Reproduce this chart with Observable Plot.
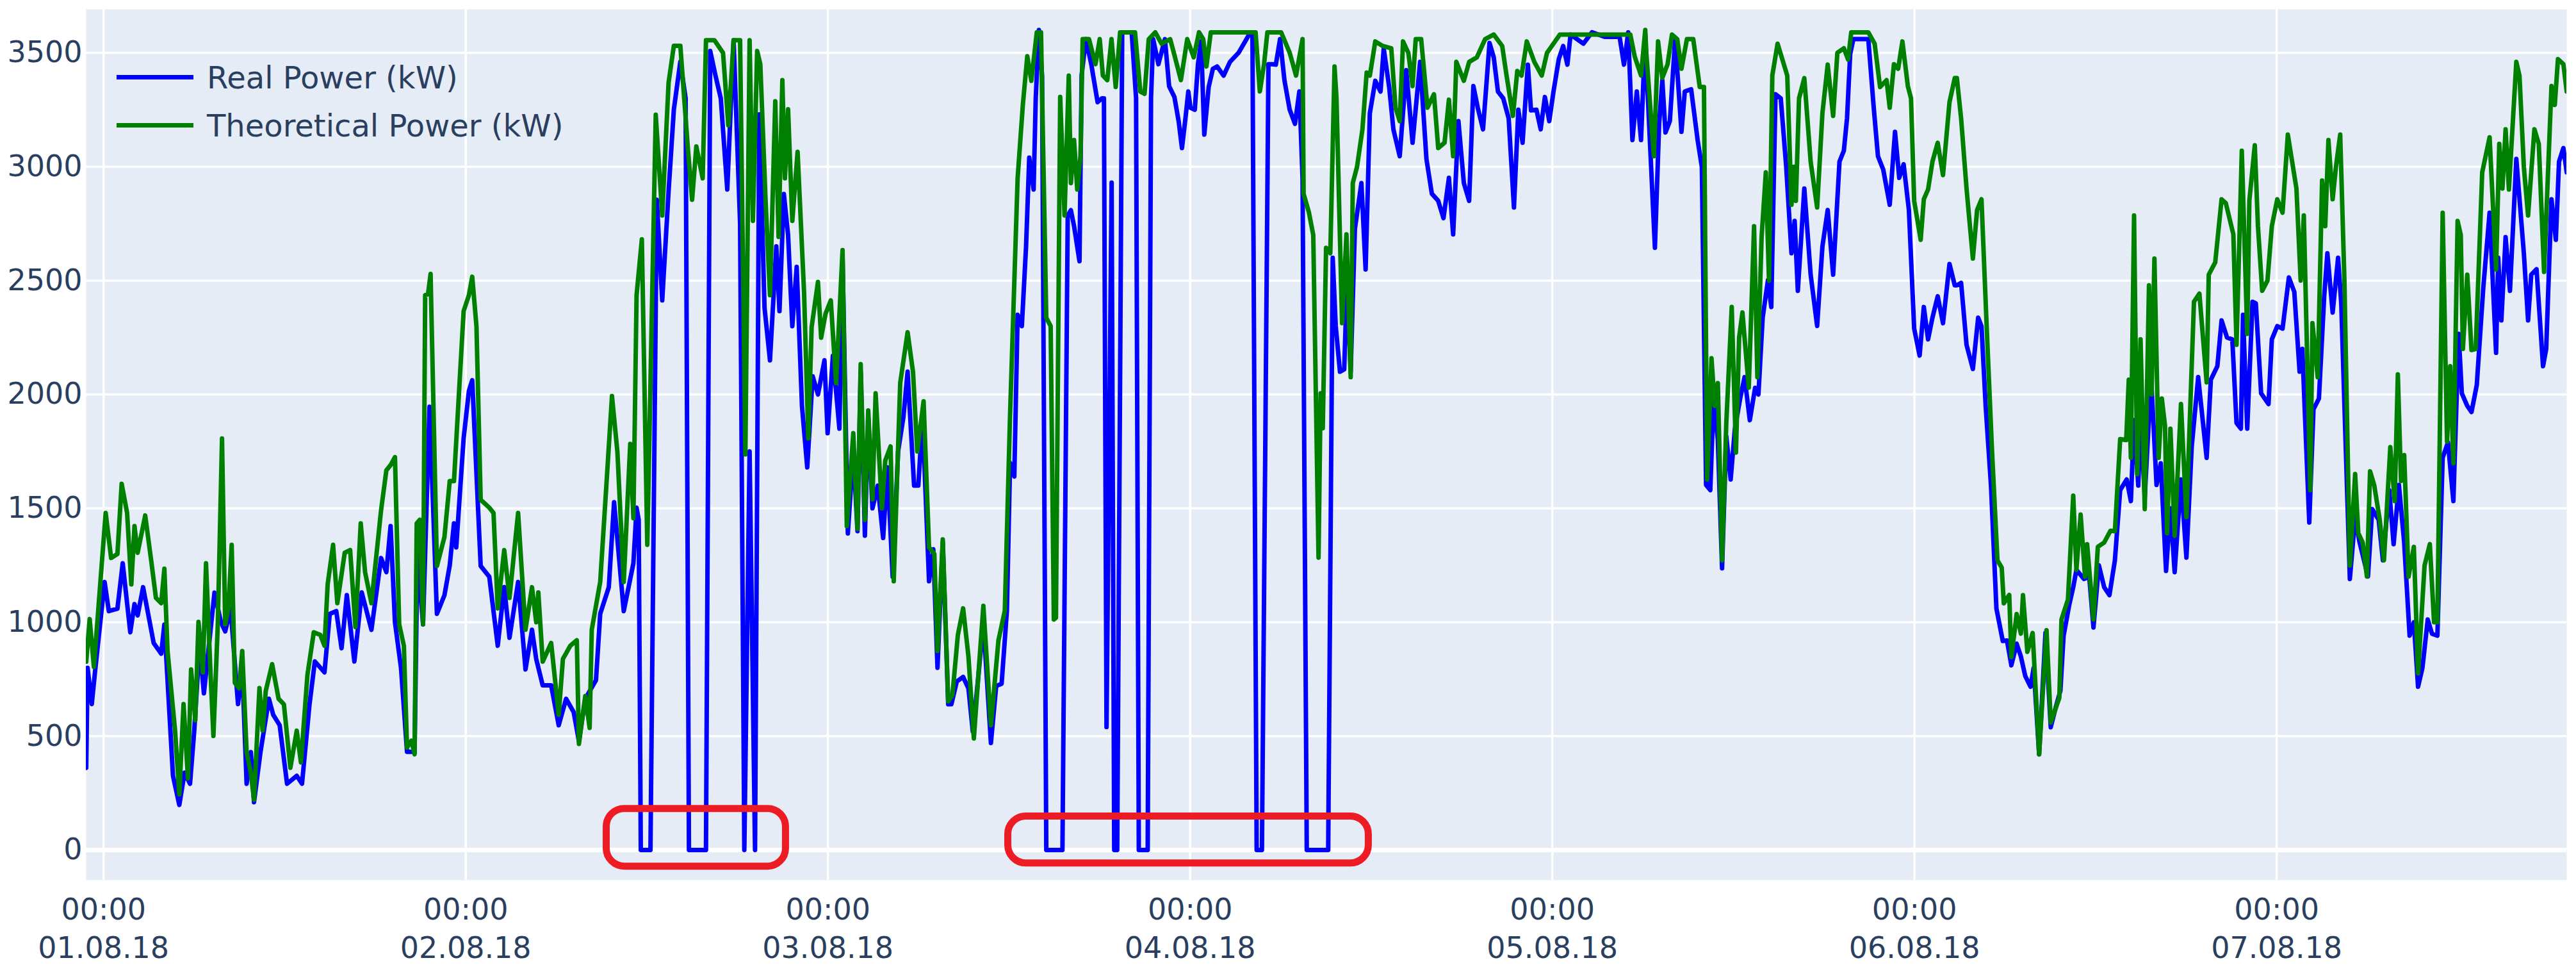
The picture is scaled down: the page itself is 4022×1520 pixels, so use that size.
<!DOCTYPE html>
<html>
<head>
<meta charset="utf-8">
<script src="https://cdn.jsdelivr.net/npm/d3@7"></script>
<script src="https://cdn.jsdelivr.net/npm/@observablehq/plot@0.6"></script>
<style>
  html, body { margin: 0; padding: 0; background: #ffffff; }
  #wrap { position: relative; width: 4022px; height: 1520px; font-family: "DejaVu Sans", Verdana, sans-serif; }
  #legend { position: absolute; left: 182px; top: 83px; color: #2a3f5f; font-size: 48px; }
  .item { display: flex; align-items: center; height: 75px; white-space: nowrap; }
  .swatch { width: 120px; height: 7px; margin-right: 21px; }
</style>
</head>
<body>
<div id="wrap"><div id="legend"></div></div>
<script>
// ---- data: [hours since 01.08.18 00:00, kW] ----
const seriesNames = ["Real Power (kW)", "Theoretical Power (kW)"];
const seriesColors = ["#0000ff", "#008000"];

const realPower = [[-1.15,361],[-1.06,800],[-0.78,641],[-0.57,780],[0.07,1177],[0.35,1049],[0.92,1060],[1.27,1259],[1.77,956],[2.05,1080],[2.26,1030],[2.62,1154],[3.32,909],[3.82,862],[4.03,990],[4.60,326],[5.02,198],[5.37,340],[5.73,291],[6.01,524],[6.36,900],[6.65,688],[7.35,1130],[7.78,1000],[8.06,960],[8.42,1060],[8.91,641],[9.19,800],[9.48,291],[9.76,430],[9.97,210],[10.40,431],[10.96,664],[11.24,594],[11.67,548],[12.16,291],[12.80,326],[13.15,291],[13.65,641],[14.00,828],[14.64,780],[14.99,1037],[15.42,1049],[15.77,886],[16.12,1119],[16.62,828],[17.11,1131],[17.75,967],[18.39,1282],[18.74,1220],[19.02,1422],[19.31,1000],[19.71,800],[20.11,431],[20.61,431],[20.80,1300],[21.17,991],[21.60,1946],[22.09,1037],[22.59,1119],[22.94,1250],[23.22,1434],[23.37,1329],[23.86,1807],[24.21,2016],[24.43,2063],[24.99,1247],[25.56,1200],[26.12,897],[26.55,1154],[26.90,932],[27.47,1177],[27.96,793],[28.39,967],[28.67,839],[29.10,723],[29.66,723],[30.16,548],[30.65,664],[31.15,606],[31.50,478],[31.92,664],[32.63,746],[32.91,1037],[33.48,1154],[33.83,1527],[34.05,1364],[34.47,1049],[35.11,1259],[35.32,1503],[35.46,1450],[35.60,0],[36.24,0],[36.66,2855],[37.02,2413],[37.44,2891],[37.79,3251],[38.22,3461],[38.57,3300],[38.79,0],[39.92,0],[40.20,3508],[40.55,3400],[40.90,3300],[41.33,2900],[41.75,3555],[42.18,2750],[42.46,0],[42.81,1750],[43.17,0],[43.45,3230],[43.80,2380],[44.16,2150],[44.58,2650],[44.79,2366],[45.08,2880],[45.36,2700],[45.64,2300],[45.93,2560],[46.28,1950],[46.63,1680],[46.99,2080],[47.34,2000],[47.77,2150],[47.98,1830],[48.33,2170],[48.76,1850],[48.97,2600],[49.32,1390],[49.68,1750],[49.96,1400],[50.17,2100],[50.45,1380],[50.67,1900],[50.95,1500],[51.30,1600],[51.66,1370],[51.94,1680],[52.29,1200],[52.65,1750],[53.00,1900],[53.28,2100],[53.71,1600],[53.99,1600],[54.27,1900],[54.70,1180],[54.98,1320],[55.26,800],[55.61,1350],[55.97,640],[56.18,640],[56.54,740],[56.96,760],[57.31,710],[57.60,520],[57.95,750],[58.30,1000],[58.80,470],[59.15,720],[59.51,730],[59.86,1050],[60.07,1700],[60.35,1640],[60.57,2350],[60.85,2300],[61.13,2650],[61.34,3040],[61.63,2900],[61.77,3300],[61.98,3600],[62.19,3400],[62.47,0],[63.54,0],[63.89,2786],[64.10,2809],[64.31,2739],[64.67,2585],[64.81,3400],[65.09,3560],[65.45,3450],[65.87,3283],[66.15,3300],[66.29,3300],[66.46,540],[66.80,2930],[66.97,0],[67.17,0],[67.50,3590],[68.13,3590],[68.42,3300],[68.60,0],[69.19,0],[69.41,3300],[69.55,3560],[69.90,3450],[70.33,3560],[70.61,3353],[70.96,3306],[71.24,3200],[71.46,3082],[71.67,3200],[71.88,3330],[72.02,3259],[72.31,3250],[72.52,3450],[72.73,3550],[72.94,3141],[73.23,3350],[73.51,3430],[73.79,3440],[74.22,3400],[74.64,3460],[75.21,3500],[75.91,3580],[76.13,3580],[76.41,0],[76.76,0],[77.19,3450],[77.47,3450],[77.68,3448],[77.96,3560],[78.25,3380],[78.60,3250],[78.95,3188],[79.24,3330],[79.45,2950],[79.73,0],[81.15,0],[81.45,2600],[81.65,2300],[81.93,2100],[82.21,2110],[82.40,2500],[82.64,2100],[82.92,2727],[83.35,2928],[83.63,2549],[83.91,3235],[84.27,3377],[84.62,3330],[84.83,3519],[85.19,3350],[85.47,3164],[85.89,3046],[86.32,3424],[86.74,3105],[87.24,3460],[87.66,3034],[88.02,2881],[88.44,2850],[88.79,2774],[89.15,2951],[89.43,2703],[89.78,3200],[90.14,2928],[90.49,2850],[90.77,3354],[91.06,3259],[91.41,3164],[91.84,3543],[92.12,3480],[92.40,3330],[92.75,3300],[93.11,3212],[93.46,2821],[93.75,3250],[94.03,3105],[94.38,3448],[94.59,3247],[94.95,3250],[95.23,3164],[95.51,3306],[95.80,3200],[96.08,3330],[96.43,3472],[96.72,3530],[97.00,3448],[97.21,3580],[98.06,3540],[98.63,3590],[99.47,3570],[100.46,3570],[100.75,3448],[101.03,3590],[101.31,3117],[101.60,3330],[101.88,3117],[102.16,3580],[102.30,3350],[102.80,2644],[103.08,3188],[103.29,3380],[103.50,3150],[103.79,3200],[104.14,3560],[104.56,3153],[104.78,3330],[105.20,3340],[105.63,3117],[105.91,2999],[106.19,1603],[106.47,1580],[106.69,1982],[106.97,1800],[107.25,1237],[107.53,1816],[107.82,1627],[108.10,1850],[108.45,1982],[108.74,2076],[109.09,1887],[109.44,2029],[109.66,2000],[109.94,2337],[110.29,2502],[110.51,2384],[110.79,3318],[111.14,3300],[111.50,3000],[111.85,2620],[112.06,2762],[112.27,2455],[112.70,2904],[113.12,2526],[113.55,2301],[113.90,2650],[114.25,2810],[114.61,2526],[115.03,3022],[115.32,3070],[115.53,3212],[115.74,3495],[115.95,3560],[116.94,3560],[117.30,3259],[117.58,3046],[117.93,2987],[118.36,2833],[118.71,3153],[118.99,2951],[119.28,3011],[119.63,2810],[119.98,2289],[120.34,2171],[120.62,2384],[120.90,2242],[121.19,2337],[121.54,2431],[121.89,2313],[122.32,2573],[122.67,2479],[122.81,2479],[123.09,2490],[123.45,2218],[123.87,2112],[124.22,2337],[124.44,2300],[124.72,1946],[125.07,1600],[125.43,1060],[125.85,918],[126.13,920],[126.42,811],[126.77,906],[127.05,850],[127.34,764],[127.69,717],[127.90,800],[128.26,421],[128.68,953],[129.03,539],[129.39,634],[129.67,700],[129.88,940],[130.24,1071],[130.52,1154],[130.73,1230],[131.23,1190],[131.58,1200],[131.86,977],[132.22,1250],[132.57,1154],[132.92,1119],[133.28,1272],[133.63,1580],[134.06,1627],[134.34,1532],[134.55,1887],[134.83,1600],[134.98,1900],[135.26,1550],[135.68,2076],[136.04,1603],[136.32,1698],[136.67,1225],[136.96,1500],[137.24,1220],[137.66,1627],[138.02,1284],[138.37,1769],[138.80,2076],[139.36,1722],[139.64,2065],[140.07,2124],[140.35,2325],[140.71,2250],[141.06,2242],[141.34,1875],[141.63,1850],[141.77,2350],[142.05,1850],[142.40,2407],[142.62,2400],[142.97,2005],[143.46,1958],[143.68,2242],[144.04,2300],[144.39,2289],[144.81,2514],[145.17,2450],[145.52,2100],[145.70,2200],[146.16,1438],[146.44,1935],[146.80,1982],[147.15,2431],[147.36,2620],[147.71,2360],[148.07,2600],[148.28,2400],[148.85,1190],[149.20,1462],[149.48,1355],[150.05,1201],[150.33,1497],[150.76,1450],[151.04,1272],[151.46,1580],[151.75,1343],[152.10,1603],[152.45,1350],[152.81,941],[153.09,1000],[153.37,717],[153.66,800],[154.01,1012],[154.29,950],[154.65,941],[155.00,1722],[155.35,1790],[155.71,1532],[156.06,2266],[156.27,2005],[156.63,1950],[156.91,1923],[157.26,2041],[157.69,2467],[158.11,2798],[158.54,2183],[158.68,2600],[158.89,2325],[159.17,2691],[159.46,2455],[159.88,3034],[160.38,2620],[160.66,2325],[160.87,2526],[161.22,2550],[161.65,2124],[161.86,2200],[162.21,2857],[162.50,2679],[162.71,3022],[163.00,3082],[163.22,2975]];

const theoreticalPower = [[-1.15,827],[-0.92,1014],[-0.64,804],[0.14,1480],[0.50,1282],[0.92,1300],[1.20,1608],[1.56,1480],[1.84,1166],[2.05,1422],[2.26,1305],[2.76,1469],[3.18,1259],[3.47,1107],[3.82,1084],[4.03,1235],[4.24,874],[4.74,524],[5.02,245],[5.30,641],[5.59,315],[5.80,793],[6.08,570],[6.29,1002],[6.58,780],[6.79,1259],[7.07,804],[7.28,501],[7.57,991],[7.85,1807],[8.06,991],[8.27,1060],[8.49,1340],[8.70,734],[8.98,710],[9.19,874],[9.48,431],[9.76,338],[9.97,221],[10.33,711],[10.54,525],[10.75,699],[11.17,816],[11.60,664],[11.95,640],[12.38,361],[12.80,524],[13.08,385],[13.51,769],[13.93,956],[14.36,945],[14.64,897],[14.85,1166],[15.21,1340],[15.49,1084],[15.98,1305],[16.34,1317],[16.69,979],[17.04,1434],[17.33,1220],[17.75,1084],[18.39,1492],[18.74,1667],[19.02,1690],[19.31,1725],[19.59,991],[19.90,897],[20.11,450],[20.40,480],[20.61,420],[20.75,1434],[20.96,1450],[21.17,991],[21.31,2436],[21.50,2440],[21.67,2529],[22.09,1247],[22.59,1375],[22.94,1620],[23.22,1620],[23.86,2366],[24.21,2436],[24.43,2517],[24.71,2300],[24.99,1538],[25.56,1503],[25.84,1480],[26.12,1061],[26.55,1317],[26.90,1107],[27.47,1480],[27.96,967],[28.39,1154],[28.67,1000],[28.81,1131],[29.10,827],[29.66,909],[30.16,594],[30.44,839],[30.93,897],[31.36,921],[31.50,466],[31.92,676],[32.21,536],[32.35,967],[32.91,1177],[33.27,1550],[33.69,1993],[34.05,1748],[34.47,1177],[34.90,1783],[35.11,1457],[35.32,2436],[35.67,2681],[36.03,1340],[36.59,3228],[37.02,2786],[37.44,3368],[37.79,3531],[38.22,3531],[38.71,3089],[39.00,2855],[39.28,3089],[39.70,2949],[39.92,3555],[40.48,3555],[41.05,3500],[41.40,3182],[41.75,3555],[42.18,3555],[42.53,1737],[42.81,3555],[43.03,2762],[43.31,3508],[43.52,3450],[43.87,2850],[44.16,2436],[44.51,3287],[44.73,2692],[44.98,3380],[45.15,2949],[45.36,3252],[45.64,2762],[45.99,3065],[46.42,2448],[46.70,1807],[46.92,2296],[47.34,2494],[47.55,2249],[47.84,2354],[48.19,2413],[48.54,2050],[48.97,2634],[49.25,1422],[49.68,1830],[49.96,1410],[50.17,2133],[50.45,1450],[50.67,1930],[50.95,1540],[51.16,2005],[51.58,1500],[51.80,1710],[52.15,1772],[52.36,1180],[52.79,2051],[53.28,2273],[53.64,2098],[53.92,1750],[54.34,1970],[54.70,1329],[55.05,1300],[55.26,874],[55.61,1364],[55.97,653],[56.25,680],[56.61,944],[56.96,1061],[57.31,851],[57.67,490],[58.30,1072],[58.80,548],[59.30,921],[59.72,1050],[60.07,1911],[60.57,2949],[60.92,3275],[61.21,3485],[61.48,3377],[61.84,3590],[62.12,3590],[62.47,2337],[62.76,2300],[62.97,1012],[63.11,1020],[63.39,3306],[63.68,2786],[63.96,3400],[64.10,2928],[64.31,3117],[64.52,2900],[64.74,3050],[64.88,3560],[65.30,3560],[65.73,3450],[66.01,3560],[66.22,3400],[66.51,3380],[66.79,3560],[67.07,3350],[67.36,3590],[68.35,3590],[68.70,3330],[68.98,3320],[69.26,3560],[69.69,3590],[70.11,3540],[70.68,3560],[70.96,3490],[71.39,3380],[71.81,3560],[72.24,3480],[72.59,3590],[72.87,3560],[73.08,3440],[73.37,3590],[76.34,3590],[76.62,3330],[76.90,3450],[77.12,3590],[78.03,3590],[78.60,3500],[79.02,3400],[79.45,3560],[79.52,2881],[79.87,2800],[80.16,2700],[80.51,1284],[80.65,2005],[80.79,1852],[81.01,2644],[81.29,2620],[81.57,3440],[81.70,3300],[82.07,2313],[82.36,2703],[82.64,2076],[82.78,2928],[83.06,2999],[83.42,3164],[83.70,3413],[83.91,3400],[84.27,3550],[84.76,3530],[85.33,3520],[85.61,3259],[85.89,3200],[86.11,3550],[86.46,3500],[86.74,3354],[86.95,3560],[87.31,3560],[87.73,3259],[88.16,3318],[88.44,3082],[88.86,3105],[89.15,3294],[89.43,3046],[89.64,3460],[90.14,3377],[90.49,3460],[91.00,3480],[91.55,3560],[92.12,3580],[92.68,3530],[92.97,3400],[93.39,3223],[93.68,3420],[93.96,3400],[94.31,3550],[94.81,3460],[95.30,3400],[95.65,3500],[96.50,3580],[101.17,3580],[101.46,3484],[101.88,3400],[102.16,3600],[102.23,3500],[102.73,3046],[103.01,3550],[103.29,3390],[103.64,3450],[103.93,3580],[104.28,3560],[104.56,3430],[104.92,3560],[105.34,3560],[105.77,3350],[106.05,3350],[106.26,1627],[106.55,2159],[106.76,1950],[106.97,2050],[107.25,1272],[107.53,1875],[107.89,2384],[108.17,1745],[108.38,2250],[108.60,2360],[109.02,2030],[109.37,2739],[109.59,2076],[109.87,2691],[110.15,2975],[110.36,2500],[110.58,3401],[110.93,3540],[111.57,3400],[111.85,2833],[112.00,3000],[112.14,2850],[112.35,3300],[112.70,3389],[113.12,3022],[113.55,2821],[113.90,3235],[114.25,3448],[114.61,3223],[114.89,3500],[115.32,3520],[115.60,3470],[115.81,3590],[116.94,3590],[117.36,3540],[117.72,3350],[118.15,3380],[118.36,3259],[118.64,3450],[118.92,3430],[119.20,3550],[119.56,3354],[119.77,3300],[119.98,2850],[120.41,2679],[120.62,2857],[120.90,2900],[121.19,3022],[121.54,3105],[121.89,2963],[122.32,3283],[122.67,3389],[122.81,3389],[123.09,3212],[123.45,2904],[123.87,2597],[124.15,2810],[124.44,2857],[124.79,2289],[125.14,1750],[125.50,1272],[125.78,1240],[125.92,1083],[126.28,1120],[126.42,847],[126.77,1036],[127.05,950],[127.19,1119],[127.48,870],[127.83,953],[128.26,420],[128.75,965],[129.03,560],[129.60,669],[129.74,1012],[130.17,1100],[130.52,1556],[130.73,1230],[131.01,1473],[131.30,1200],[131.44,1343],[131.86,1012],[132.15,1331],[132.57,1350],[132.99,1402],[133.28,1400],[133.63,1804],[134.03,1800],[134.20,2065],[134.34,1722],[134.55,2786],[134.76,1650],[134.98,2242],[135.26,1497],[135.54,2479],[135.71,2000],[135.90,2597],[136.18,1722],[136.39,1982],[136.60,1864],[136.74,1391],[136.96,1850],[137.24,1380],[137.66,1958],[138.02,1462],[138.52,2407],[138.88,2443],[139.36,2053],[139.50,2526],[139.93,2580],[140.35,2857],[140.63,2840],[141.13,2703],[141.34,2218],[141.69,3070],[142.05,2266],[142.19,2850],[142.55,3094],[142.76,2739],[143.04,2455],[143.39,2500],[143.68,2739],[144.04,2857],[144.39,2798],[144.74,3141],[145.31,2904],[145.59,2500],[145.80,2786],[146.23,1580],[146.37,2313],[146.72,2076],[147.01,2939],[147.22,2739],[147.43,3117],[147.71,2857],[147.93,3000],[148.21,3141],[148.49,2500],[148.85,1249],[149.20,1651],[149.41,1391],[149.70,1350],[149.98,1201],[150.19,1663],[150.47,1600],[150.83,1450],[151.11,1272],[151.53,1769],[151.82,1532],[152.03,2088],[152.24,1620],[152.45,1734],[152.74,1200],[153.09,1331],[153.37,776],[153.80,1249],[154.15,1343],[154.43,1000],[154.65,1000],[155.00,2798],[155.29,1793],[155.50,2124],[155.71,1698],[155.99,2762],[156.20,2700],[156.34,2200],[156.63,2526],[156.91,2195],[157.19,2200],[157.62,2975],[158.11,3129],[158.54,2549],[158.75,3100],[158.96,2904],[159.17,3164],[159.39,2900],[159.88,3460],[160.09,3400],[160.38,2999],[160.66,2786],[161.08,3164],[161.37,3100],[161.72,2538],[162.21,3354],[162.43,3271],[162.64,3472],[163.00,3450],[163.22,3330]];

// highlighted outage windows: [start hour, end hour, low kW, high kW]
const outageBoxes = [[33.33, 45.21, -72, 181], [59.94, 83.83, -58, 148]];

const yTicks = [0, 500, 1000, 1500, 2000, 2500, 3000, 3500];
const dayTicks = ["2018-08-01", "2018-08-02", "2018-08-03", "2018-08-04", "2018-08-05", "2018-08-06", "2018-08-07"];
const xRangeHours = [-1.154, 163.22];
const yRange = [-132, 3691];

// ---- build ----
const base = Date.UTC(2018, 7, 1);
const toDate = h => new Date(base + h * 3600e3);
const realData = realPower.map(([h, v]) => ({t: toDate(h), v}));
const theoData = theoreticalPower.map(([h, v]) => ({t: toDate(h), v}));
const boxes = outageBoxes.map(([a, b, lo, hi]) => ({x1: toDate(a), x2: toDate(b), y1: lo, y2: hi}));
const dayDates = dayTicks.map(s => new Date(s + "T00:00:00Z"));
const fmtTime = d3.utcFormat("%H:%M"), fmtDay = d3.utcFormat("%d.%m.%y");

const chart = Plot.plot({
  width: 4022,
  height: 1520,
  marginLeft: 134,
  marginRight: 15,
  marginTop: 14,
  marginBottom: 147,
  style: {fontFamily: '"DejaVu Sans", Verdana, sans-serif', color: "#2a3f5f", background: "transparent"},
  x: {type: "utc", domain: xRangeHours.map(toDate)},
  y: {domain: yRange},
  marks: [
    Plot.frame({fill: "#E5ECF6", stroke: null}),
    Plot.ruleY(yTicks.filter(d => d !== 0), {stroke: "#ffffff", strokeWidth: 3.5}),
    Plot.ruleX(dayDates, {stroke: "#ffffff", strokeWidth: 3.5}),
    Plot.ruleY([0], {stroke: "#ffffff", strokeWidth: 7}),
    Plot.axisY({ticks: yTicks, tickSize: 0, tickPadding: 6, fontSize: 46, label: null, fill: "#2a3f5f",
      tickFormat: d => String(d)}),
    Plot.axisX({ticks: dayDates, tickSize: 0, tickPadding: 19, fontSize: 46, lineHeight: 1.3, label: null, fill: "#2a3f5f",
      tickFormat: d => fmtTime(d) + "\n" + fmtDay(d)}),
    Plot.line(realData, {x: "t", y: "v", stroke: seriesColors[0], strokeWidth: 7, clip: true}),
    Plot.line(theoData, {x: "t", y: "v", stroke: seriesColors[1], strokeWidth: 7, clip: true}),
    Plot.rect(boxes, {x1: "x1", x2: "x2", y1: "y1", y2: "y2", fill: "none", stroke: "#ed1c24", strokeWidth: 11, rx: 28})
  ]
});
const wrap = document.getElementById("wrap");
wrap.insertBefore(chart, wrap.firstChild);

const legend = document.getElementById("legend");
seriesNames.forEach((name, i) => {
  const row = document.createElement("div");
  row.className = "item";
  row.innerHTML = `<div class="swatch" style="background:${seriesColors[i]}"></div><span>${name}</span>`;
  legend.appendChild(row);
});
</script>
</body>
</html>
